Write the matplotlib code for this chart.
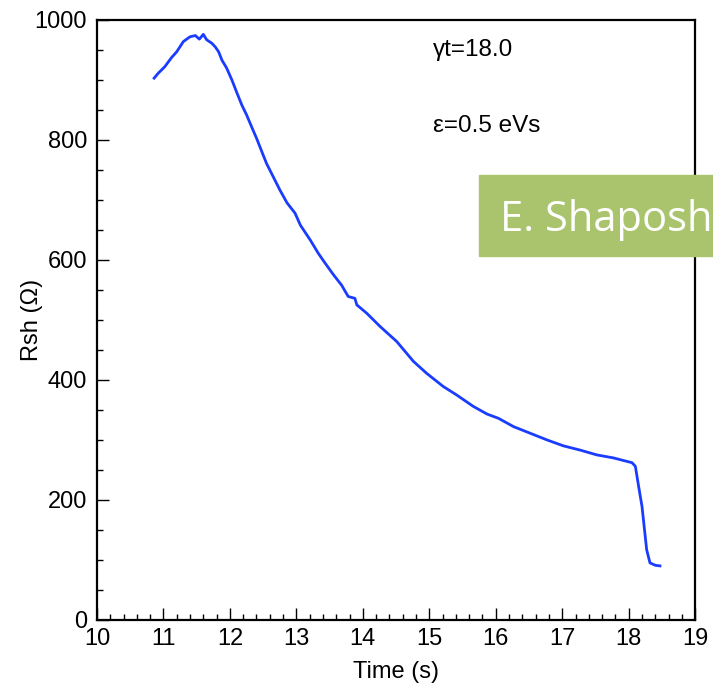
import matplotlib
matplotlib.use("Agg")
import matplotlib.pyplot as plt
from matplotlib.patches import Rectangle
from matplotlib.ticker import MultipleLocator

plt.rcParams["font.family"] = ["Liberation Sans", "DejaVu Sans"]

# Rsh vs time
time_s = [10.86, 10.92, 11.02, 11.12, 11.20, 11.30, 11.40, 11.48, 11.54, 11.60,
          11.65, 11.73, 11.78, 11.83, 11.88, 11.95, 12.03, 12.10, 12.18, 12.25,
          12.33, 12.40, 12.45, 12.55, 12.65, 12.75, 12.86, 12.98, 13.06, 13.21,
          13.33, 13.43, 13.56, 13.68, 13.78, 13.88, 13.91, 14.06, 14.26, 14.51,
          14.76, 14.96, 15.21, 15.41, 15.66, 15.87, 16.04, 16.27, 16.52, 16.77,
          17.02, 17.27, 17.52, 17.77, 18.05, 18.10, 18.15, 18.20, 18.27, 18.32,
          18.40, 18.47]
rsh_ohm = [903, 911, 922, 937, 947, 964, 972, 974, 968, 976,
           967, 961, 955, 947, 933, 920, 900, 880, 858, 842,
           821, 803, 789, 761, 739, 717, 695, 678, 658, 633,
           611, 595, 575, 558, 539, 536, 525, 511, 489, 464,
           431, 411, 389, 375, 356, 343, 336, 322, 311, 300,
           290, 283, 275, 270, 262, 256, 222, 189, 117, 95,
           91, 90]

labels = ["\u03b3t=18.0", "\u03b5=0.5 eVs"]

fig = plt.figure(figsize=(7.13, 6.88), dpi=100)
ax = fig.add_axes([0.136, 0.099, 0.839, 0.872])

ax.plot(time_s, rsh_ohm, color="#1a3cff", lw=2.0)

ax.set_xlim(10, 19)
ax.set_ylim(0, 1000)
ax.xaxis.set_major_locator(MultipleLocator(1))
ax.xaxis.set_minor_locator(MultipleLocator(0.2))
ax.yaxis.set_major_locator(MultipleLocator(200))
ax.yaxis.set_minor_locator(MultipleLocator(50))
ax.tick_params(which="both", direction="in", top=False, right=False, width=1)
ax.tick_params(which="major", length=8.5, labelsize=17)
ax.tick_params(which="minor", length=4)
ax.tick_params(axis="x", pad=6)
ax.tick_params(axis="y", pad=7)
for s in ax.spines.values():
    s.set_linewidth(1.6)

ax.set_xlabel("Time (s)", fontsize=17)
ax.xaxis.set_label_coords(0.50, -0.068)
ax.set_ylabel("Rsh (\u03a9)", fontsize=17)
ax.yaxis.set_label_coords(-0.09, 0.5)

ax.text(0.561, 0.95, labels[0], transform=ax.transAxes, fontsize=17.5, va="center")
ax.text(0.561, 0.823, labels[1], transform=ax.transAxes, fontsize=17.5, va="center")

# green name banner, cut off by the right edge
fig.add_artist(Rectangle((479 / 713, 1 - 256 / 688), 0.5, 81 / 688,
                         transform=fig.transFigure, color="#a9c46c", zorder=5))
fig.text(500 / 713, 1 - 220 / 688, "E. Shaposh", color="white", fontsize=30,
         family=["Open Sans", "DejaVu Sans"], va="center", zorder=6)

fig.savefig("out.png", dpi=100)
